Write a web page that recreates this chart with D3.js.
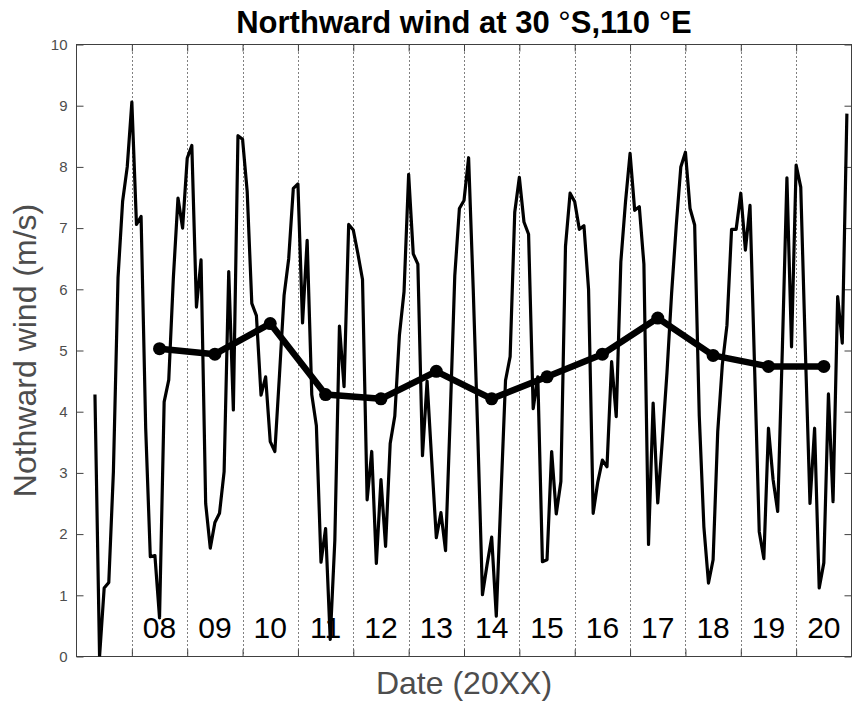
<!DOCTYPE html>
<html lang="en">
<head>
<meta charset="UTF-8">
<title>Northward wind at 30 °S,110 °E</title>
<style>
    body {
        margin: 0;
        background: #fff;
    }
    svg {
        display: block;
        font-family: "Liberation Sans", Arial, Helvetica, sans-serif;
    }
</style>
</head>
<body>
<svg id="chart" width="852" height="703"></svg>

<script src="https://cdn.jsdelivr.net/npm/d3@7"></script>
<script>
    // monthly series starts in May 2007
    const startYear = 2007, startMonth = 5;

    // northward wind (m/s), one row per year
    const windMonthly = [
        4.28, 0.00, 1.12, 1.21, 3.02, 6.19, 7.44, 8.00,                          // 2007 (May-Dec)
        9.06, 7.06, 7.19, 3.73, 1.63, 1.65, 0.63, 4.16, 4.52, 6.19, 7.49, 7.00,  // 2008
        8.14, 8.35, 5.71, 6.48, 2.50, 1.77, 2.19, 2.34, 3.02, 6.29, 4.03, 8.51,  // 2009
        8.45, 7.60, 5.77, 5.57, 4.27, 4.57, 3.51, 3.35, 4.60, 5.90, 6.50, 7.65,  // 2010
        7.72, 5.45, 6.80, 4.28, 3.77, 1.54, 2.09, 0.28, 1.90, 5.40, 4.41, 7.06,  // 2011
        6.97, 6.58, 6.16, 2.56, 3.35, 1.52, 2.89, 1.80, 3.48, 3.93, 5.25, 5.96,  // 2012
        7.88, 6.58, 6.41, 3.28, 4.50, 3.20, 1.94, 2.35, 1.73, 3.90, 6.22, 7.32,  // 2013
        7.45, 8.15, 6.00, 3.60, 1.01, 1.50, 1.95, 0.66, 2.60, 4.51, 4.90, 7.26,  // 2014
        7.83, 7.10, 6.90, 4.05, 4.57, 1.55, 1.58, 3.35, 2.33, 2.86, 6.70, 7.57,  // 2015
        7.43, 6.98, 7.04, 6.00, 2.34, 2.85, 3.21, 3.10, 4.82, 3.92, 6.45, 7.42,  // 2016
        8.22, 7.29, 7.35, 6.41, 1.83, 4.14, 2.51, 3.54, 4.64, 5.93, 7.03, 8.00,  // 2017
        8.24, 7.32, 7.05, 3.93, 2.12, 1.20, 1.58, 3.67, 4.77, 5.41, 6.98, 6.98,  // 2018
        7.57, 6.64, 7.37, 4.70, 2.04, 1.60, 3.73, 2.89, 2.37, 5.00, 7.82, 5.06,  // 2019
        8.03, 7.67, 5.00, 2.50, 3.73, 1.12, 1.53, 4.29, 2.53, 5.88, 5.12, 8.87   // 2020
    ];

    // yearly means, plotted in the middle of each year
    const years = [2008, 2009, 2010, 2011, 2012, 2013, 2014, 2015, 2016, 2017, 2018, 2019, 2020];
    const yearLabels = ["08", "09", "10", "11", "12", "13", "14", "15", "16", "17", "18", "19", "20"];
    const annualMean = [5.03, 4.94, 5.44, 4.28, 4.21, 4.66, 4.21, 4.57, 4.94, 5.53, 4.92, 4.74, 4.74];

    const yTicks = [0, 1, 2, 3, 4, 5, 6, 7, 8, 9, 10];

    const svg = d3.select('#chart');
    const box = {left: 76.5, right: 851.5, top: 44.5, bottom: 656.5};
    const axisColor = '#404040', textColor = '#4d4d4d';

    const x = d3.scaleLinear().domain([2007, 2021]).range([box.left, box.right]);
    const y = d3.scaleLinear().domain([0, 10]).range([box.bottom, box.top]);
    const crisp = v => Math.round(v) + 0.5;

    svg.append('rect').attr('width', 852).attr('height', 703).attr('fill', '#fff');

    svg.append('defs').append('clipPath').attr('id', 'plotArea')
        .append('rect')
        .attr('x', box.left).attr('y', box.top)
        .attr('width', box.right - box.left).attr('height', box.bottom - box.top);

    // dotted year separators
    svg.append('g').selectAll('line')
        .data(years)
        .join('line')
        .attr('x1', d => crisp(x(d))).attr('x2', d => crisp(x(d)))
        .attr('y1', box.top).attr('y2', box.bottom)
        .attr('stroke', '#000')
        .attr('stroke-width', 1)
        .attr('stroke-dasharray', '1,3');

    // axes, ticks pointing inward
    function styleAxis(g) {
        g.select('.domain').remove();
        g.selectAll('.tick line').attr('stroke', axisColor);
        g.selectAll('.tick text')
            .attr('fill', textColor)
            .style('font-size', '15px');
    }
    svg.append('g').attr('transform', 'translate(' + box.left + ',0)')
        .call(d3.axisLeft(y).tickValues(yTicks).tickSize(-7).tickPadding(9))
        .call(styleAxis);
    svg.append('g').attr('transform', 'translate(' + box.right + ',0)')
        .call(d3.axisRight(y).tickValues(yTicks).tickSize(-7).tickFormat(''))
        .call(styleAxis);
    svg.append('g').attr('transform', 'translate(0,' + box.bottom + ')')
        .call(d3.axisBottom(x).tickValues(years).tickSize(-7).tickFormat(''))
        .call(styleAxis);
    svg.append('g').attr('transform', 'translate(0,' + box.top + ')')
        .call(d3.axisTop(x).tickValues(years).tickSize(-7).tickFormat(''))
        .call(styleAxis);

    svg.append('rect')
        .attr('x', box.left).attr('y', box.top)
        .attr('width', box.right - box.left).attr('height', box.bottom - box.top)
        .attr('fill', 'none')
        .attr('stroke', axisColor)
        .attr('stroke-width', 1);

    const plot = svg.append('g').attr('clip-path', 'url(#plotArea)');

    // monthly wind
    const monthLine = d3.line()
        .x((d, i) => x(startYear + (startMonth - 1 + i) / 12))
        .y(d => y(d));
    plot.append('path')
        .datum(windMonthly)
        .attr('d', monthLine)
        .attr('fill', 'none')
        .attr('stroke', '#000')
        .attr('stroke-width', 3.2)
        .attr('stroke-linejoin', 'round');

    // yearly mean
    const meanLine = d3.line()
        .x((d, i) => x(years[i] + 0.5))
        .y(d => y(d));
    plot.append('path')
        .datum(annualMean)
        .attr('d', meanLine)
        .attr('fill', 'none')
        .attr('stroke', '#000')
        .attr('stroke-width', 6.5)
        .attr('stroke-linejoin', 'round');
    plot.selectAll('circle')
        .data(annualMean)
        .join('circle')
        .attr('cx', (d, i) => x(years[i] + 0.5))
        .attr('cy', d => y(d))
        .attr('r', 6.5)
        .attr('fill', '#000');

    // year numbers inside the plot
    svg.append('g').selectAll('text')
        .data(yearLabels)
        .join('text')
        .attr('x', (d, i) => x(years[i] + 0.5))
        .attr('y', 638)
        .attr('text-anchor', 'middle')
        .attr('fill', '#000')
        .style('font-size', '30px')
        .text(d => d);

    // title, degree signs drawn thin like the TeX \circ
    const title = svg.append('text')
        .attr('x', (box.left + box.right) / 2)
        .attr('y', 33)
        .attr('text-anchor', 'middle')
        .attr('fill', '#000')
        .style('font-size', '31px')
        .style('font-weight', 'bold');
    title.append('tspan').text('Northward wind at 30 ');
    title.append('tspan').style('font-weight', 'normal').text('°');
    title.append('tspan').text('S,110 ');
    title.append('tspan').style('font-weight', 'normal').text('°');
    title.append('tspan').text('E');

    svg.append('text')
        .attr('x', (box.left + box.right) / 2)
        .attr('y', 694)
        .attr('text-anchor', 'middle')
        .attr('fill', textColor)
        .style('font-size', '32px')
        .text('Date (20XX)');

    svg.append('text')
        .attr('transform', 'translate(36,' + (box.top + box.bottom) / 2 + ') rotate(-90)')
        .attr('text-anchor', 'middle')
        .attr('fill', textColor)
        .style('font-size', '32px')
        .text('Nothward wind (m/s)');
</script>
</body>
</html>
